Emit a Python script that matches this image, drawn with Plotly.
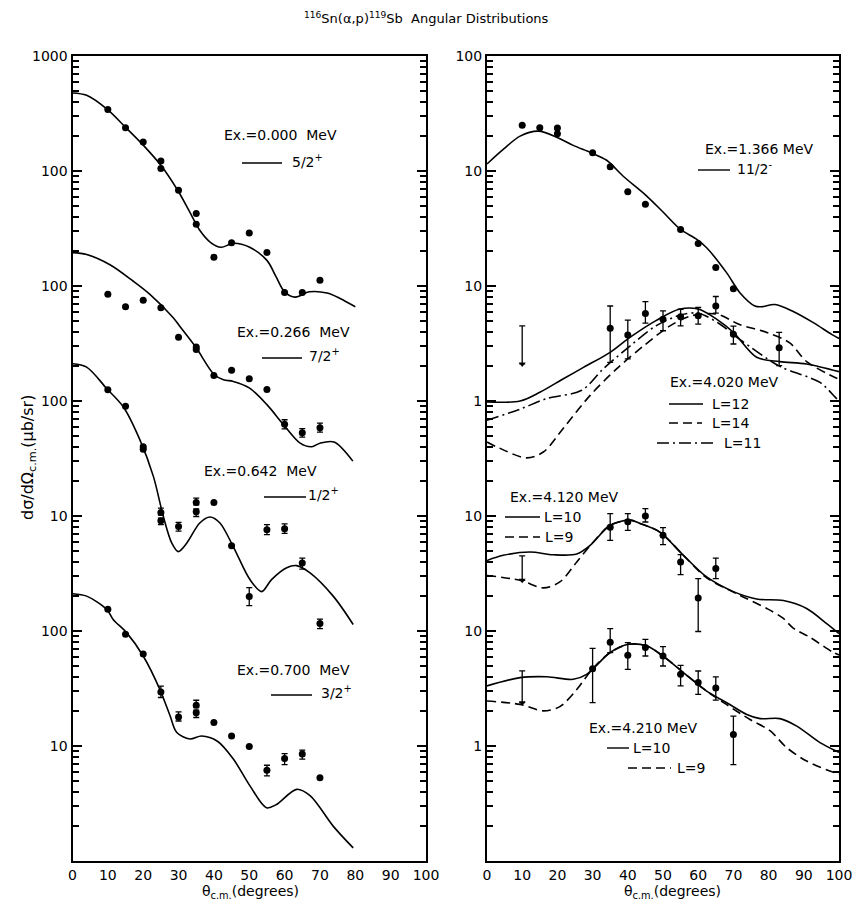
import plotly.graph_objects as go

W, H = 852, 905

# Left panel
# Ex = 0.000 MeV, 5/2+
a_pt_theta = [10, 15, 20, 25, 25, 30, 35, 35, 40, 45, 50, 55, 60, 65, 70]
a_pt_val = [342, 238, 179, 122, 105, 68, 42.6, 34.4, 17.8, 23.8, 28.9, 19.6, 8.77, 8.77, 11.2]
a_pt_ep = [0] * 15
a_pt_em = [0] * 15
a_fit_theta = [0, 4, 10, 15, 20, 25, 30, 33, 36, 39, 42, 45.5, 50, 55, 57.5, 60, 63, 67, 72, 75.7, 80]
a_fit_val = [477, 455, 340, 240, 168, 112, 66, 45, 30.5, 24, 21.7, 23.5, 21.8, 16.7, 12.2, 8.9, 8.0, 8.9, 8.7, 7.8, 6.6]

# Ex = 0.266 MeV, 7/2+
b_pt_theta = [10, 15, 20, 25, 30, 35, 35, 40, 45, 50, 55, 60, 65, 70]
b_pt_val = [84.6, 66, 75, 64.7, 35.8, 29.5, 28.1, 16.7, 18.5, 15.6, 12.6, 6.27, 5.3, 5.86]
b_pt_ep = [0, 0, 0, 0, 0, 0, 0, 0, 0, 0, 0, 0.6, 0.45, 0.55]
b_pt_em = [0, 0, 0, 0, 0, 0, 0, 0, 0, 0, 0, 0.55, 0.45, 0.5]
b_fit_theta = [0, 4, 10.6, 17.2, 21.9, 28.5, 31, 35, 40, 42.7, 45.5, 50, 55, 59.6, 64.4, 67.7, 70, 74, 79.3]
b_fit_val = [195, 188, 153, 110, 84.6, 53, 42, 29, 17.1, 15.3, 14.8, 13, 9.3, 6.27, 4.3, 4.0, 4.3, 4.4, 3.0]

# Ex = 0.642 MeV, 1/2+
c_pt_theta = [10, 15, 20, 20, 25, 25, 30, 35, 35, 40, 45, 50, 55, 60, 65, 70]
c_pt_val = [125.5, 90, 40, 38, 10.7, 9.1, 8.1, 13.1, 10.9, 13.1, 5.5, 2.0, 7.6, 7.75, 3.9, 1.16]
c_pt_ep = [0, 0, 0, 0, 1.0, 0.5, 0.7, 1.2, 0.6, 0, 0, 0.38, 0.8, 0.8, 0.4, 0.11]
c_pt_em = [0, 0, 0, 0, 0.5, 0.7, 0.7, 0.6, 1.0, 0, 0, 0.34, 0.7, 0.7, 0.45, 0.11]
c_fit_theta = [0, 4, 9.7, 14.4, 19.1, 22.9, 25.7, 28.1, 29.9, 32.3, 36, 38.9, 41.7, 45.5, 50.2, 53.5,
               56.3, 60.6, 63.4, 67.2, 73.8, 79.4]
c_fit_val = [211, 197, 128, 88.7, 45.7, 22, 9.9, 5.8, 4.9, 5.8, 8.7, 9.8, 8.7, 5.4, 2.8, 2.2,
             2.8, 3.55, 3.7, 3.2, 2.0, 1.14]

# Ex = 0.700 MeV, 3/2+
d_pt_theta = [10, 15, 20, 25, 30, 35, 35, 40, 45, 50, 55, 60, 65, 70]
d_pt_val = [154.5, 93.6, 63, 29.5, 17.9, 22.6, 19.5, 16.0, 12.2, 9.9, 6.15, 7.8, 8.5, 5.3]
d_pt_ep = [0, 0, 0, 3.7, 1.9, 2.4, 1.0, 0, 0, 0, 0.65, 0.8, 0.7, 0]
d_pt_em = [0, 0, 0, 3.1, 1.4, 1.0, 1.8, 0, 0, 0, 0.65, 0.9, 0.8, 0]
d_fit_theta = [0, 4, 9.7, 11.5, 15.3, 20, 24.7, 27.6, 29.5, 33.2, 36.5, 41, 45.5, 50.2, 54.9, 57.7,
               63.4, 67.2, 73.8, 79.4]
d_fit_val = [211, 201, 154, 126, 96.8, 60.6, 31.1, 18.3, 13.1, 11.5, 12.2, 11.0, 7.7, 4.5, 2.9, 3.1,
             4.2, 3.7, 2.0, 1.3]

# Right panel
# Ex = 1.366 MeV, 11/2-
e_pt_theta = [10, 15, 20, 20, 30, 35, 40, 45, 55, 60, 65, 70]
e_pt_val = [25, 23.8, 23.6, 21.1, 14.4, 10.9, 6.6, 5.15, 3.1, 2.34, 1.45, 0.946]
e_pt_ep = [0] * 12
e_pt_em = [0] * 12
e_fit_theta = [0, 4.6, 9.4, 14.6, 19.8, 24.5, 29.6, 34, 38.7, 45, 50, 55, 59.6, 62.4, 68.1, 71.9,
               76.1, 78, 81.8, 87, 92.7, 97.9, 100]
e_fit_val = [11.5, 15.4, 20.1, 22.2, 19.7, 16.7, 14.4, 12.4, 9.0, 6.2, 4.4, 3.1, 2.54, 2.15, 1.3, 0.87,
             0.67, 0.66, 0.69, 0.6, 0.48, 0.38, 0.35]

# Ex = 4.020 MeV
f_pt_theta = [35, 40, 45, 50, 55, 60, 65, 70, 83]
f_pt_val = [4.3, 3.74, 5.77, 5.15, 5.4, 5.5, 6.7, 3.8, 2.9]
f_pt_ep = [2.4, 1.31, 1.53, 0.93, 0.88, 1.0, 1.4, 0.67, 1.05]
f_pt_em = [2.13, 1.42, 1.02, 1.07, 0.9, 0.84, 0.9, 0.67, 0.87]
f_lim_theta = [10]
f_lim_top = [4.5]
f_lim_tip = [2.1]
f_l12_theta = [0, 9.4, 15, 21.7, 27.4, 35, 40.6, 48, 54.8, 60, 65.2, 70, 76.6, 83.2, 90.8, 100]
f_l12_val = [0.98, 1.0, 1.19, 1.56, 1.96, 2.65, 3.57, 5.0, 6.3, 6.3, 5.15, 3.95, 2.4, 2.2, 2.1, 1.8]
f_l14_theta = [0, 2.7, 11.3, 16, 21.7, 29.3, 36.8, 44.4, 52, 58, 65.2, 71.9, 79.5, 86, 90.8, 98.9, 100]
f_l14_val = [0.44, 0.4, 0.32, 0.36, 0.58, 1.12, 1.9, 3.0, 4.5, 5.5, 5.7, 4.6, 3.95, 3.2, 2.2, 1.6, 1.55]
f_l11_theta = [0, 9.4, 17, 26.9, 33, 40.6, 48, 55, 60, 66, 72, 83.2, 94.6, 98.9, 100]
f_l11_val = [0.68, 0.85, 1.05, 1.24, 1.9, 3.0, 4.5, 5.6, 5.8, 4.7, 3.4, 2.0, 1.45, 1.08, 1.0]

# Ex = 4.120 MeV
g_pt_theta = [35, 40, 45, 50, 55, 60, 65]
g_pt_val = [8.0, 8.9, 10.0, 6.8, 3.98, 1.94, 3.5]
g_pt_ep = [2.47, 1.57, 1.57, 1.11, 0.63, 0.91, 0.81]
g_pt_em = [1.86, 1.4, 1.13, 1.17, 0.89, 0.95, 0.65]
g_lim_theta = [10]
g_lim_top = [4.5]
g_lim_tip = [2.76]
g_l10_theta = [0, 4.6, 12.2, 18.8, 25.5, 29.3, 35, 40.6, 43.5, 49.1, 55.8, 62.4, 70, 76.6, 84.2, 90.8, 96.5, 100]
g_l10_val = [4.1, 4.55, 4.86, 4.6, 4.67, 5.55, 8.3, 9.2, 8.6, 7.25, 4.55, 2.95, 2.2, 1.9, 1.84, 1.57, 1.16, 0.95]
g_l9_theta = [0, 9.4, 16, 20.7, 25.5, 30.2, 35, 40.6, 43.5, 49.1, 55.8, 62.4, 71.9, 79.5, 84, 87, 91.8, 98.4, 100]
g_l9_val = [3.04, 2.76, 2.37, 2.67, 3.98, 5.94, 8.3, 9.2, 8.6, 7.25, 4.55, 2.9, 2.04, 1.57, 1.3, 1.06, 0.88, 0.65, 0.62]

# Ex = 4.210 MeV
h_pt_theta = [30, 35, 40, 45, 50, 55, 60, 65, 70]
h_pt_val = [4.7, 8.0, 6.15, 7.2, 6.05, 4.2, 3.56, 3.2, 1.26]
h_pt_ep = [2.37, 2.5, 1.78, 1.27, 1.27, 0.83, 0.93, 0.79, 0.56]
h_pt_em = [2.32, 1.51, 1.51, 1.14, 1.09, 0.87, 0.75, 0.69, 0.57]
h_lim_theta = [10]
h_lim_top = [4.5]
h_lim_tip = [2.38]
h_l10_theta = [0, 9.4, 17, 24.5, 28.3, 35, 40.2, 45.4, 50, 55.8, 62.4, 68.1, 73.8, 77.6, 83.2, 88, 94.6, 99.3, 100]
h_l10_val = [3.33, 3.93, 4.0, 3.8, 4.2, 6.5, 7.66, 7.4, 6.05, 4.35, 3.0, 2.38, 1.88, 1.73, 1.73, 1.49, 1.07, 0.9, 0.88]
h_l9_theta = [0, 9.4, 16, 20.7, 25.5, 30, 35, 40.2, 45.4, 50, 55.8, 62.4, 68, 74.7, 80.4, 85.1, 90.8, 98.4, 100]
h_l9_val = [2.46, 2.3, 2.02, 2.2, 3.1, 4.7, 6.5, 7.66, 7.4, 6.05, 4.35, 3.0, 2.3, 1.7, 1.36, 0.97, 0.74, 0.59, 0.57]

# axis tick labels
x_ticks = [0, 10, 20, 30, 40, 50, 60, 70, 80, 90, 100]
left_tickvals = [1000, 100, 10, 1, 0.1, 0.01, 0.001]
left_ticktext = ["1000", "100", "100", "100", "10", "100", "10"]
right_tickvals = [100, 10, 1, 0.1, 0.01, 0.001, 0.0001]
right_ticktext = ["100", "10", "10", "1", "10", "10", "1"]

# vertical display offsets of each set (divide by this)
OFF = dict(a=1, b=10, c=100, d=1e4, e=1, f=10, g=1e3, h=1e4)

FONT = "DejaVu Sans"
fig = go.Figure()


def px(x):
    return x / W


def py(y):
    return 1 - y / H


def fit(theta, val, off, xa, ya, dash="solid", width=1.6):
    fig.add_trace(go.Scatter(
        x=theta, y=[v / off for v in val], mode="lines",
        line=dict(color="black", width=width, dash=dash, shape="spline", smoothing=0.9),
        xaxis=xa, yaxis=ya, hoverinfo="skip", showlegend=False))


def pts(theta, val, ep, em, off, xa, ya):
    fig.add_trace(go.Scatter(
        x=theta, y=[v / off for v in val], mode="markers",
        marker=dict(color="black", size=7),
        error_y=dict(type="data", symmetric=False, array=[e / off for e in ep],
                     arrayminus=[e / off for e in em], color="black", thickness=1.3, width=3),
        xaxis=xa, yaxis=ya, hoverinfo="skip", showlegend=False))


def limit(theta, top, tip, off, xa, ya):
    fig.add_trace(go.Scatter(
        x=theta, y=[t / off for t in tip], mode="markers",
        marker=dict(color="black", size=6, symbol="triangle-down"),
        error_y=dict(type="data", symmetric=False,
                     array=[(a - b) / off for a, b in zip(top, tip)],
                     arrayminus=[0] * len(tip), color="black", thickness=1.3, width=3),
        xaxis=xa, yaxis=ya, hoverinfo="skip", showlegend=False))


DASH = "9px,5px"
DASHDOT = "12px,4px,2px,4px"

# left panel
fit(a_fit_theta, a_fit_val, OFF["a"], "x", "y")
pts(a_pt_theta, a_pt_val, a_pt_ep, a_pt_em, OFF["a"], "x", "y")
fit(b_fit_theta, b_fit_val, OFF["b"], "x", "y")
pts(b_pt_theta, b_pt_val, b_pt_ep, b_pt_em, OFF["b"], "x", "y")
fit(c_fit_theta, c_fit_val, OFF["c"], "x", "y")
pts(c_pt_theta, c_pt_val, c_pt_ep, c_pt_em, OFF["c"], "x", "y")
fit(d_fit_theta, d_fit_val, OFF["d"], "x", "y")
pts(d_pt_theta, d_pt_val, d_pt_ep, d_pt_em, OFF["d"], "x", "y")

# right panel
fit(e_fit_theta, e_fit_val, OFF["e"], "x2", "y2")
pts(e_pt_theta, e_pt_val, e_pt_ep, e_pt_em, OFF["e"], "x2", "y2")
fit(f_l12_theta, f_l12_val, OFF["f"], "x2", "y2")
fit(f_l14_theta, f_l14_val, OFF["f"], "x2", "y2", dash=DASH)
fit(f_l11_theta, f_l11_val, OFF["f"], "x2", "y2", dash=DASHDOT)
pts(f_pt_theta, f_pt_val, f_pt_ep, f_pt_em, OFF["f"], "x2", "y2")
limit(f_lim_theta, f_lim_top, f_lim_tip, OFF["f"], "x2", "y2")
fit(g_l10_theta, g_l10_val, OFF["g"], "x2", "y2")
fit(g_l9_theta, g_l9_val, OFF["g"], "x2", "y2", dash=DASH)
pts(g_pt_theta, g_pt_val, g_pt_ep, g_pt_em, OFF["g"], "x2", "y2")
limit(g_lim_theta, g_lim_top, g_lim_tip, OFF["g"], "x2", "y2")
fit(h_l10_theta, h_l10_val, OFF["h"], "x2", "y2")
fit(h_l9_theta, h_l9_val, OFF["h"], "x2", "y2", dash=DASH)
pts(h_pt_theta, h_pt_val, h_pt_ep, h_pt_em, OFF["h"], "x2", "y2")
limit(h_lim_theta, h_lim_top, h_lim_tip, OFF["h"], "x2", "y2")


def minor_vals(lo, hi):
    out = []
    for k in range(lo, hi):
        for m in range(2, 10):
            out.append(m * 10.0 ** k)
    return out


YDOM = [py(861), py(56)]
XDOM1 = [px(72.5), px(426)]
XDOM2 = [px(487), px(839)]

xcommon = dict(range=[0, 100], tickmode="array", tickvals=x_ticks, ticks="", showgrid=False,
               zeroline=False, showline=True, mirror=True, linecolor="black", linewidth=2,
               automargin=False, ticklabeloverflow="allow",
               tickfont=dict(family=FONT, size=14, color="black"))


def yaxis_major(anchor, rng, vals, texts):
    return dict(type="log", anchor=anchor, range=rng, tickmode="array", tickvals=vals, ticktext=texts,
                ticks="inside", ticklen=9, tickwidth=2, tickcolor="black",
                showgrid=False, zeroline=False, showline=True, mirror="allticks",
                linecolor="black", linewidth=2, automargin=False,
                tickfont=dict(family=FONT, size=14, color="black"), domain=YDOM)


def yaxis_minor(anchor, over, rng, vals):
    return dict(type="log", anchor=anchor, overlaying=over, range=rng, tickmode="array", tickvals=vals,
                ticks="inside", ticklen=6, tickwidth=1.6, tickcolor="black",
                showgrid=False, zeroline=False, showline=True, linecolor="black", linewidth=2,
                mirror="allticks", showticklabels=False, automargin=False, domain=YDOM)


fig.update_layout(
    width=W, height=H, margin=dict(l=0, r=0, t=0, b=0, autoexpand=False),
    paper_bgcolor="white", plot_bgcolor="white", showlegend=False,
    font=dict(family=FONT, color="black"),
    xaxis=dict(domain=XDOM1, anchor="y", **xcommon),
    xaxis2=dict(domain=XDOM2, anchor="y2", **xcommon),
    yaxis=yaxis_major("x", [-4, 3], left_tickvals, left_ticktext),
    yaxis2=yaxis_major("x2", [-5, 2], right_tickvals, right_ticktext),
    yaxis3=yaxis_minor("x", "y", [-4, 3], minor_vals(-4, 3)),
    yaxis4=yaxis_minor("x2", "y2", [-5, 2], minor_vals(-5, 2)),
)

# invisible anchor traces so the minor-tick axes are drawn
fig.add_trace(go.Scatter(x=[1], y=[1e-9], xaxis="x", yaxis="y3", mode="markers",
                         marker=dict(opacity=0), showlegend=False, hoverinfo="skip"))
fig.add_trace(go.Scatter(x=[1], y=[1e-9], xaxis="x2", yaxis="y4", mode="markers",
                         marker=dict(opacity=0), showlegend=False, hoverinfo="skip"))

annotations = []
shapes = []


def text(t, x, y, size=14, anchor="left", angle=0):
    annotations.append(dict(text=t, x=px(x), y=py(y), xref="paper", yref="paper",
                            xanchor=anchor, yanchor="middle", showarrow=False, textangle=angle,
                            font=dict(family=FONT, size=size, color="black")))


def sample(x0, x1, y, dash="solid"):
    shapes.append(dict(type="line", xref="paper", yref="paper", x0=px(x0), x1=px(x1),
                       y0=py(y), y1=py(y), line=dict(color="black", width=1.4, dash=dash)))


text("<sup>116</sup>Sn(α,p)<sup>119</sup>Sb&nbsp;&nbsp;Angular Distributions", 426, 18, 13, "center")
text("dσ/dΩ<sub>c.m.</sub>(μb/sr)", 28, 458, 16, "center", -90)
text("θ<sub>c.m.</sub>(degrees)", 251, 892, 14, "center")
text("θ<sub>c.m.</sub>(degrees)", 672, 892, 14, "center")

# left labels
text("Ex.=0.000&nbsp;&nbsp;MeV", 222, 135)
sample(242, 282, 163)
text("5/2<sup>+</sup>", 290, 161)
text("Ex.=0.266&nbsp;&nbsp;MeV", 235, 332)
sample(262, 302, 358)
text("7/2<sup>+</sup>", 307, 355)
text("Ex.=0.642&nbsp;&nbsp;MeV", 202, 471)
sample(264, 306, 497)
text("1/2<sup>+</sup>", 306, 494)
text("Ex.=0.700&nbsp;&nbsp;MeV", 235, 670)
sample(271, 312, 695)
text("3/2<sup>+</sup>", 319, 692)

# right labels
text("Ex.=1.366 MeV", 703, 149)
sample(698, 730, 170)
text("11/2<sup>-</sup>", 735, 168)
text("Ex.=4.020 MeV", 668, 382)
sample(669, 703, 404)
text("L=12", 710, 404)
sample(669, 702, 423, DASH)
text("L=14", 710, 423)
sample(657, 714, 443, DASHDOT)
text("L=11", 722, 443)
text("Ex.=4.120 MeV", 508, 497)
sample(505, 540, 517)
text("L=10", 542, 517)
sample(505, 540, 537, DASH)
text("L=9", 543, 537)
text("Ex.=4.210 MeV", 587, 728)
sample(607, 629, 748)
text("L=10", 631, 748)
sample(628, 671, 768, DASH)
text("L=9", 675, 768)

fig.update_layout(annotations=annotations, shapes=shapes)
fig.write_html("out.html", config={"displayModeBar": False},
               post_script="document.body.style.margin='0px';document.body.style.padding='0px';")
